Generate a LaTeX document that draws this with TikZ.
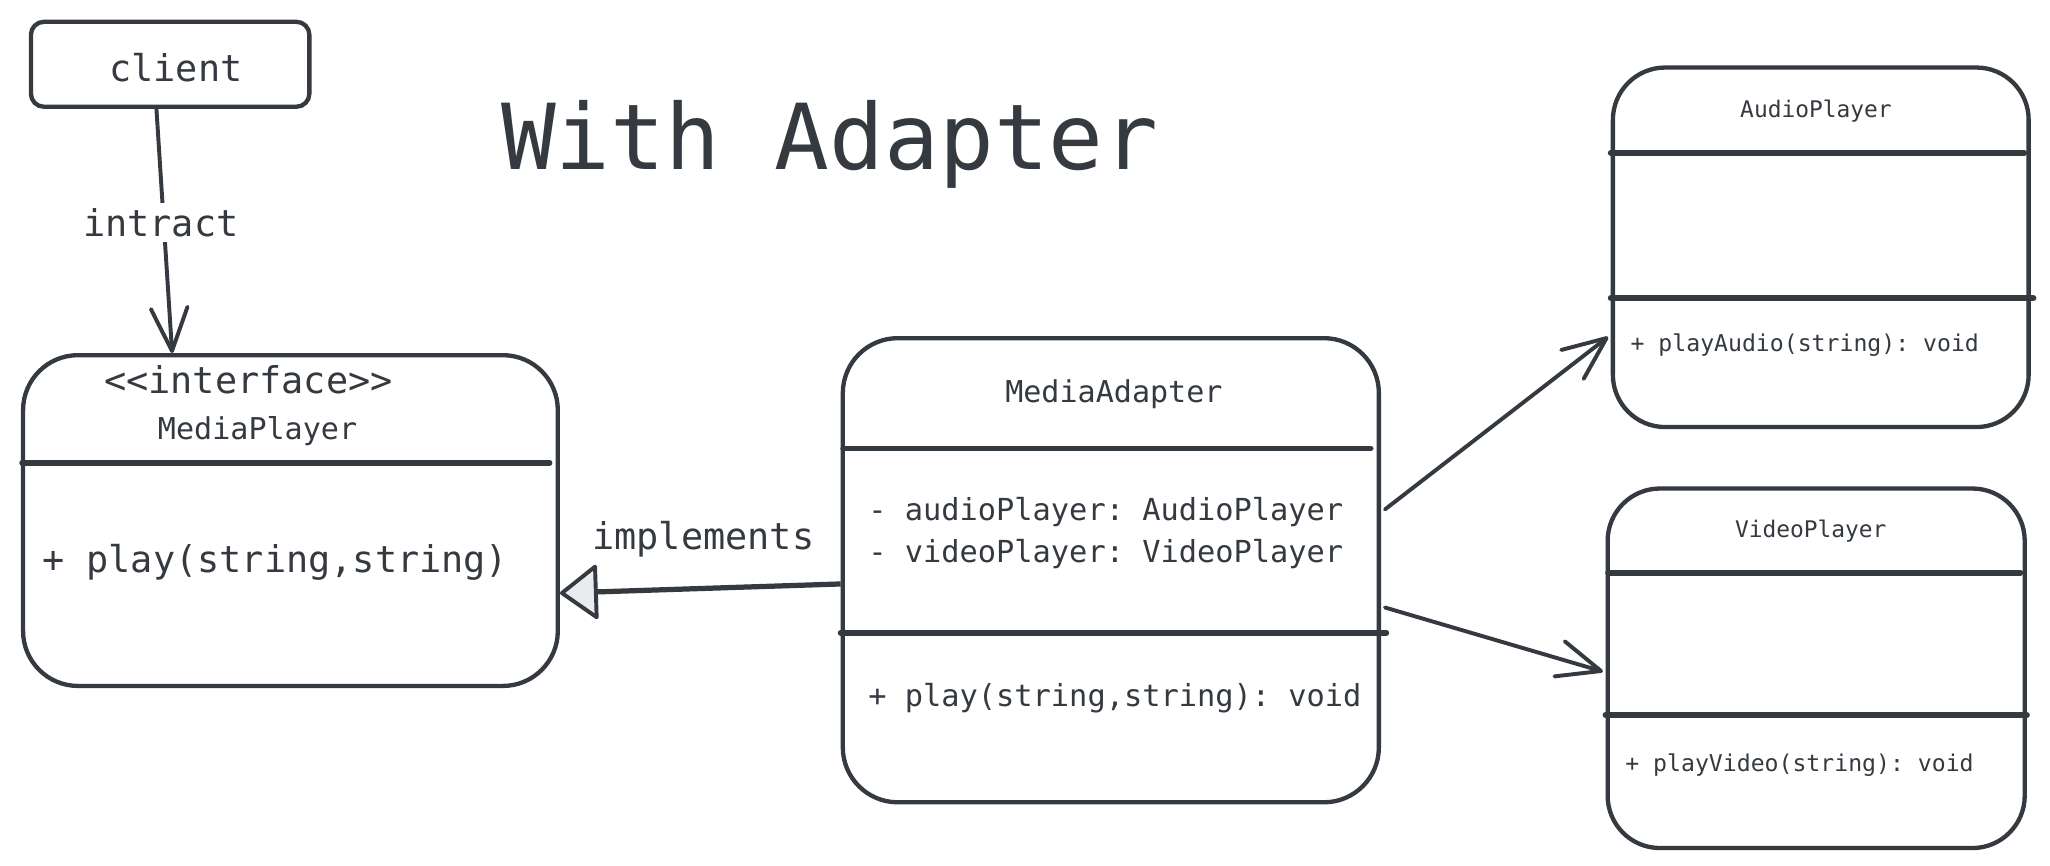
\documentclass[tikz,border=0pt]{standalone}
\usepackage{fontspec}
\newfontfamily\handmono{DejaVu Sans Mono}
\usetikzlibrary{arrows.meta}
\definecolor{ink}{HTML}{343A40}
\definecolor{trifill}{HTML}{E9ECEF}
\newcommand{\myfs}[1]{\fontsize{#1}{#1}\selectfont}
\frenchspacing
\begin{document}
\begin{tikzpicture}[x=1pt,y=-1pt,
  box/.style={draw=ink, line width=3.3pt, rounded corners=#1, inner sep=0pt, anchor=north west},
  divider/.style={draw=ink, line width=4.5pt, line cap=round},
  txt/.style={text=ink, inner sep=0pt, font=\handmono},
  assoc/.style={draw=ink, line width=3pt, line cap=round, -{Straight Barb[length=33pt,width=28pt,round]}},
  impl/.style={draw=ink, line width=4pt, -{Triangle[length=30pt,width=44pt,fill=trifill,line width=3pt,round]}},
  lbl/.style={text=ink, fill=white, inner sep=4pt, font=\handmono}]
\useasboundingbox (0,0) rectangle (1568,662);
\fill[white] (0,0) rectangle (1568,662);

% boxes
\node[box=10pt, minimum width=213pt, minimum height=65pt] (client) at (22,15) {};
\node[box=42pt, minimum width=409pt, minimum height=253pt] (mp) at (16,270) {};
\node[box=42pt, minimum width=410pt, minimum height=355pt] (ma) at (643,257) {};
\node[box=40pt, minimum width=318pt, minimum height=275pt] (ap) at (1232,50) {};
\node[box=40pt, minimum width=319pt, minimum height=275pt] (vp) at (1228,372) {};

% dividers
\draw[divider] ([xshift=1pt,yshift=-84pt]mp.north west) -- ([xshift=-8pt,yshift=-84pt]mp.north east);
\draw[divider] ([xshift=2pt,yshift=-86pt]ma.north west) -- ([xshift=-8pt,yshift=-86pt]ma.north east);
\draw[divider] ([yshift=-227pt]ma.north west) -- ([xshift=4pt,yshift=-227pt]ma.north east);
\draw[divider] ([yshift=-67pt]ap.north west) -- ([xshift=-5pt,yshift=-67pt]ap.north east);
\draw[divider] ([yshift=-178pt]ap.north west) -- ([xshift=2pt,yshift=-178pt]ap.north east);
\draw[divider] ([xshift=2pt,yshift=-66pt]vp.north west) -- ([xshift=-5pt,yshift=-66pt]vp.north east);
\draw[divider] ([yshift=-175pt]vp.north west) -- ([yshift=-175pt]vp.north east);

% texts
\node[txt, anchor=base] (tclient) at (134.5,62) {\myfs{28.2}client};
\node[txt, anchor=base west] (title) at (383,130) {\myfs{69.6}With Adapter};
\node[txt, anchor=base] (tiface) at (190,301) {\myfs{28.2}<<interface>>};
\node[txt, anchor=base] (tmp) at (197,336) {\myfs{23}MediaPlayer};
\node[txt, anchor=base west] (tmpplay) at (32,438) {\myfs{28.2}+ play(string,string)};
\node[txt, anchor=base] (tma) at (852,308) {\myfs{23}MediaAdapter};
\node[txt, anchor=base west] (tmaa) at (664,398) {\myfs{23.2}- audioPlayer: AudioPlayer};
\node[txt, anchor=base west] (tmav) at (664,430) {\myfs{23.2}- videoPlayer: VideoPlayer};
\node[txt, anchor=base west] (tmaplay) at (664,540) {\myfs{23.2}+ play(string,string): void};
\node[txt, anchor=base] (tap) at (1389,90) {\myfs{17.5}AudioPlayer};
\node[txt, anchor=base west] (tapplay) at (1247,269) {\myfs{17.7}+ playAudio(string): void};
\node[txt, anchor=base] (tvp) at (1385,411) {\myfs{17.5}VideoPlayer};
\node[txt, anchor=base west] (tvpplay) at (1243,590) {\myfs{17.7}+ playVideo(string): void};

% connectors
\draw[assoc] ([xshift=-10.5pt]client.south) -- ([xshift=-90.5pt]mp.north);
\node[lbl, anchor=base] (lintract) at (123,181) {\myfs{28.2}intract};
\draw[impl] ([yshift=-10.5pt]ma.west) -- ([yshift=-55.5pt]mp.east);
\node[txt, anchor=base] (limpl) at (538,420) {\myfs{28.2}implements};
\draw[assoc] ([xshift=3pt,yshift=46.5pt]ma.east) -- ([xshift=-2pt,yshift=-68.5pt]ap.west);
\draw[assoc] ([xshift=3pt,yshift=-28.5pt]ma.east) -- ([xshift=-2pt,yshift=-2.5pt]vp.west);
\end{tikzpicture}
\end{document}
